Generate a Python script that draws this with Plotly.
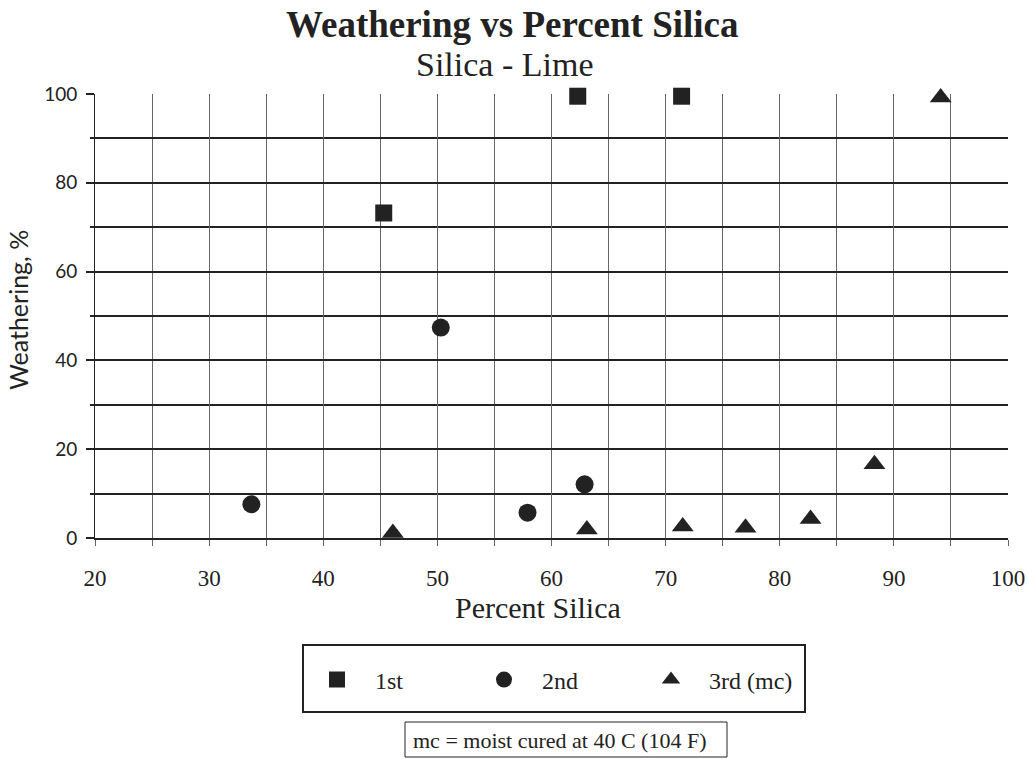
import plotly.graph_objects as go

# Data
first_x = [45.3, 62.3, 71.4]
first_y = [73.2, 99.5, 99.5]

second_x = [33.7, 50.3, 57.9, 62.9]
second_y = [7.6, 47.4, 5.7, 12.1]

third_x = [46.1, 63.1, 71.5, 77.0, 82.7, 88.3, 94.1]
third_y = [1.1, 1.9, 2.6, 2.3, 4.3, 16.6, 99.2]

x_ticks = [20, 30, 40, 50, 60, 70, 80, 90, 100]
y_ticks = [0, 20, 40, 60, 80, 100]

INK = "#222222"
SERIF = "Liberation Serif"
SANS = "Lato"

# plot area in pixels: x 95..1008, y 94..538
L, R, T, B = 95, 1008, 94, 538
def px(x):
    return (x - L) / (R - L)
def py(y):
    return (B - y) / (B - T)

fig = go.Figure()
fig.add_trace(go.Scatter(x=first_x, y=first_y, mode="markers", name="1st", cliponaxis=False,
                         marker=dict(symbol="square", size=17, color=INK)))
fig.add_trace(go.Scatter(x=second_x, y=second_y, mode="markers", name="2nd", cliponaxis=False,
                         marker=dict(symbol="circle", size=18, color=INK)))
fig.add_trace(go.Scatter(x=third_x, y=third_y, mode="markers", name="3rd (mc)", cliponaxis=False,
                         marker=dict(symbol="triangle-up", size=19, color=INK)))

fig.update_layout(
    width=1028, height=759,
    margin=dict(l=L, r=1028 - R, t=T, b=759 - B, autoexpand=False),
    paper_bgcolor="white", plot_bgcolor="white",
    showlegend=True,
    legend=dict(orientation="h", x=px(299), y=py(680), xanchor="left", yanchor="middle",
                borderwidth=0, bgcolor="rgba(0,0,0,0)",
                font=dict(family=SERIF, size=24, color=INK),
                itemwidth=66,
                entrywidth=86, entrywidthmode="pixels"),
    shapes=[
        dict(type="rect", xref="paper", yref="paper", x0=px(303), x1=px(805), y0=py(645), y1=py(712),
             line=dict(color=INK, width=2), fillcolor="rgba(0,0,0,0)", layer="below"),
        dict(type="rect", xref="paper", yref="paper", x0=px(405), x1=px(727), y0=py(722), y1=py(757),
             line=dict(color=INK, width=1), fillcolor="rgba(0,0,0,0)", layer="below"),
    ],
    annotations=[
        dict(text="<b>Weathering vs Percent Silica</b>", x=px(512), y=py(25), xref="paper", yref="paper",
             showarrow=False, font=dict(family=SERIF, size=37, color=INK), xanchor="center", yanchor="middle"),
        dict(text="Silica - Lime", x=px(505), y=py(64), xref="paper", yref="paper",
             showarrow=False, font=dict(family=SERIF, size=34, color=INK), xanchor="center", yanchor="middle"),
        dict(text="Percent Silica", x=px(538), y=py(607), xref="paper", yref="paper",
             showarrow=False, font=dict(family=SERIF, size=30, color=INK), xanchor="center", yanchor="middle"),
        dict(text="Weathering, %", x=px(18), y=py(310), xref="paper", yref="paper", textangle=-90,
             showarrow=False, font=dict(family=SANS, size=25, color=INK), xanchor="center", yanchor="middle"),
        dict(text="mc = moist cured at 40 C (104 F)", x=px(411), y=py(740), xref="paper", yref="paper",
             showarrow=False, font=dict(family=SERIF, size=22, color=INK), xanchor="left", yanchor="middle"),
    ],
)

fig.update_xaxes(range=[20, 100], tickvals=x_ticks, ticktext=[str(v) for v in x_ticks],
                 automargin=False,
                 showgrid=True, gridcolor="#666666", gridwidth=1,
                 minor=dict(dtick=5, showgrid=True, gridcolor="#666666", gridwidth=1,
                            ticks="outside", ticklen=6, tickcolor="#666666"),
                 ticks="outside", ticklen=6, tickcolor="#666666",
                 showline=True, linecolor=INK, linewidth=2, mirror=False,
                 zeroline=False, ticklabelstandoff=12,
                 tickfont=dict(family=SERIF, size=23, color=INK))
fig.update_yaxes(range=[0, 100], tickvals=y_ticks, ticktext=[str(v) for v in y_ticks],
                 automargin=False,
                 showgrid=True, gridcolor=INK, gridwidth=2,
                 minor=dict(dtick=10, showgrid=True, gridcolor=INK, gridwidth=2,
                            ticks="outside", ticklen=4, tickcolor=INK),
                 ticks="outside", ticklen=8, tickcolor=INK, tickwidth=2,
                 showline=True, linecolor=INK, linewidth=1,
                 zeroline=False, ticklabelstandoff=5,
                 tickfont=dict(family=SANS, size=19, color=INK))

fig.write_html("out.html")
